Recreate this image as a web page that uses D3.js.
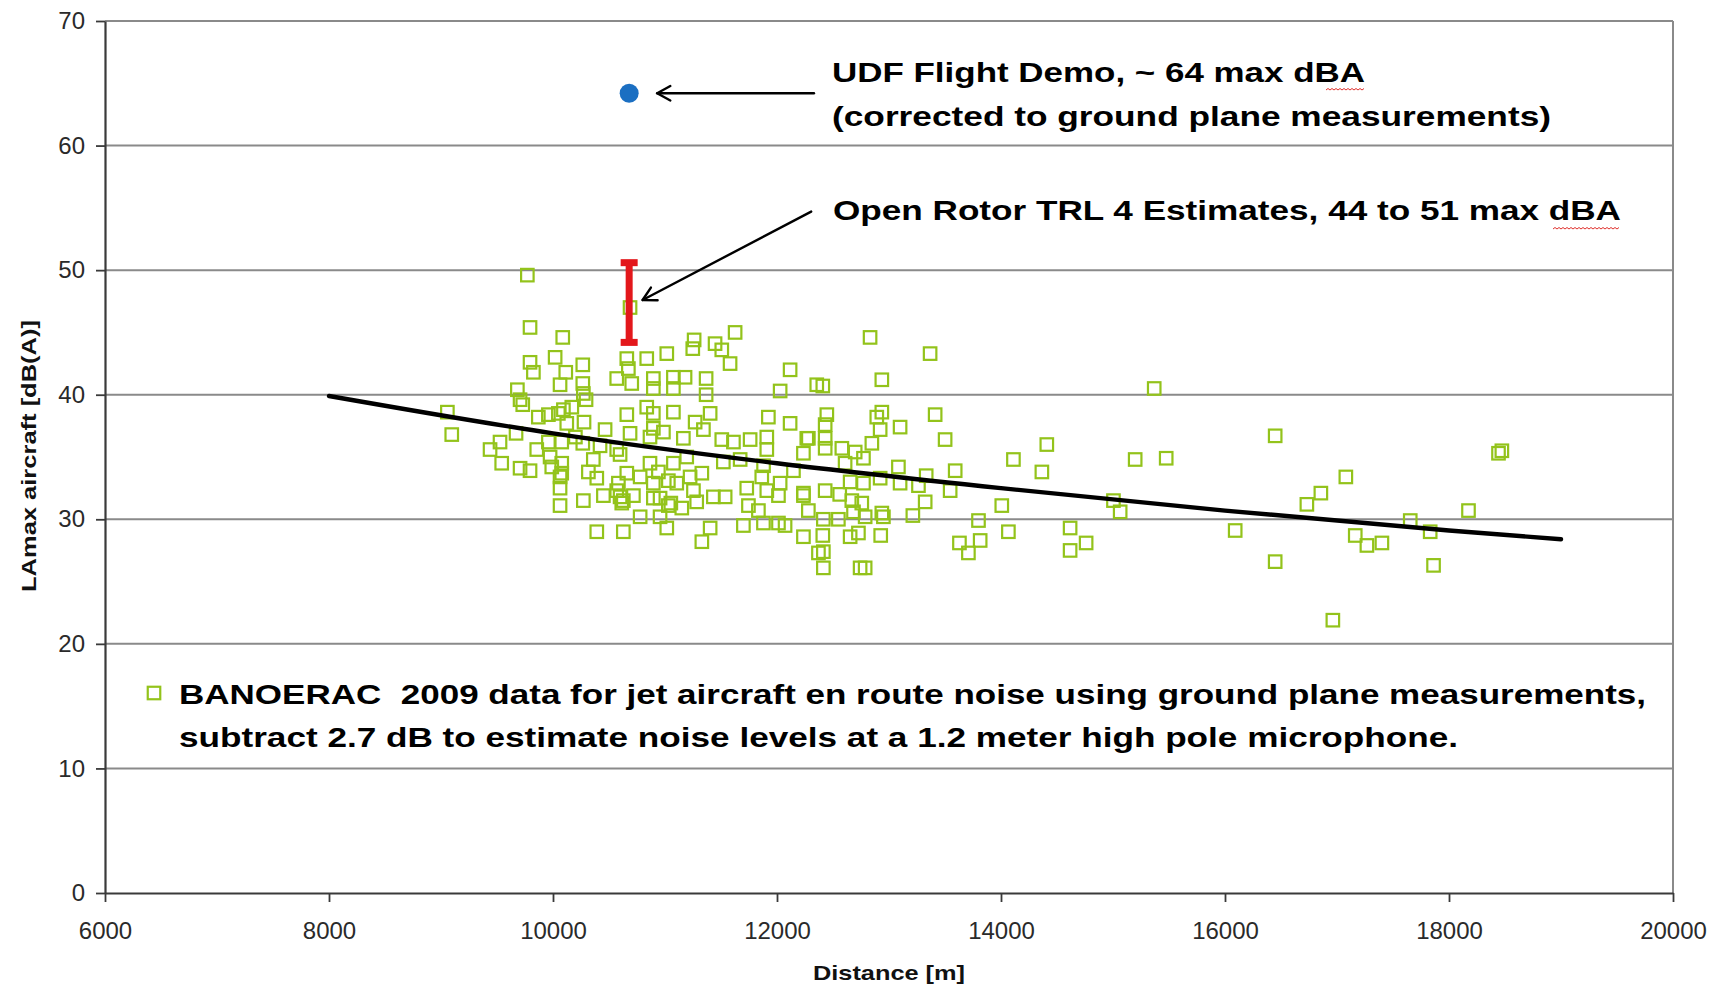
<!DOCTYPE html>
<html><head><meta charset="utf-8">
<script src="https://cdn.jsdelivr.net/npm/d3@7"></script>
<style>
html,body{margin:0;padding:0;background:#fff;}
svg{display:block;font-family:"Liberation Sans",Arial,sans-serif;}
</style>
</head><body>
<svg id="chart" width="1724" height="991"></svg>
<script>
// ---------------- data ----------------
const xTicks = [6000, 8000, 10000, 12000, 14000, 16000, 18000, 20000];
const yTicks = [0, 10, 20, 30, 40, 50, 60, 70];

// BANOERAC 2009 measurements: distance [m] and LAmax [dB(A)]
const banoeracDistance = [
 9771,10688,9795,10087,9795,9825,10019,10114,10266,10063,10266,9682,9706,9730,9057,9096,9869,9959,10093,10168,
 10271,10295,10277,10123,10569,10659,10673,10703,10837,11016,10896,10896,11075,11179,11075,11260,11248,11447,11507,11581,
 11626,11367,11367,12117,12028,10659,10837,10896,11075,10896,10866,11403,11269,11343,11923,12117,9438,9527,9542,9706,
 9795,9855,9959,9974,9989,10078,10063,10266,10360,10316,10391,10465,10569,10688,10599,10659,10778,10569,10599,10718,
 10614,10450,10271,10063,10063,10866,10941,11075,11105,10956,11030,10896,10896,11194,11224,11329,11254,11432,11537,11283,
 11507,11611,11760,11909,11909,11671,11730,11745,11864,11909,12028,12013,12266,12236,12236,12280,10778,10956,11016,10391,
 10628,11403,11329,11700,11879,12013,12072,12236,12370,12355,12831,13367,12409,12936,15368,12445,12430,12280,12430,12430,
 12936,12891,12921,12847,13099,13412,13501,12579,12698,12772,12608,16448,14111,14409,14365,15198,15475,13084,13332,13591,
 13546,12236,12430,12653,12772,12921,13099,13263,12668,12757,12414,12548,12683,12787,12936,12950,13213,13323,14007,13799,
 14066,13814,13629,13709,12409,12653,12727,12926,12414,12414,12742,12787,15004,15064,14617,14617,14760,16091,16448,18442,
 18472,17079,16856,16731,17163,17267,17401,17654,17832,17862,18174,16963,9670,10048,10078,10078,10986,11164,11521,12147,
 11834,11030,11052,10584,10628,10200,10420,11150,11880,12560
];
const banoeracLevel = [
 49.6,47.0,45.4,44.6,42.6,41.8,43.0,41.8,42.4,40.8,40.9,40.4,39.6,39.2,38.6,36.8,38.2,38.4,38.8,39.0,
 40.1,39.6,37.8,37.7,41.3,42.9,42.1,40.9,42.9,43.3,41.3,40.5,41.4,41.4,40.5,44.4,43.7,44.1,43.6,42.5,
 45.0,41.3,40.0,42.0,40.3,38.4,39.0,38.5,38.6,37.3,36.6,38.5,37.8,37.2,38.2,37.7,35.6,36.2,34.5,34.1,
 33.9,35.6,36.2,35.0,34.2,34.5,33.4,36.1,34.8,33.8,33.3,37.2,35.6,36.9,35.2,33.7,33.4,32.3,31.8,31.9,
 31.3,31.9,31.5,32.5,31.1,34.5,33.8,34.5,32.9,31.7,31.1,32.9,31.7,35.0,33.4,33.7,32.3,31.8,31.8,31.4,
 36.4,36.2,36.4,36.6,35.6,34.8,32.5,31.1,33.4,32.3,32.9,31.9,36.5,35.3,31.9,30.7,30.2,30.2,29.3,29.0,
 29.0,29.3,28.2,29.5,29.7,29.7,29.5,28.6,27.3,40.8,44.6,43.3,40.7,41.2,40.5,38.4,37.6,36.5,36.5,35.7,
 38.6,38.2,37.2,36.1,37.4,38.4,36.4,35.7,35.4,34.9,34.5,36.7,34.8,36.0,33.8,34.8,34.9,34.2,33.5,33.9,
 32.3,32.1,32.3,33.0,32.9,33.3,32.9,32.7,31.5,31.3,30.0,30.0,30.6,30.2,30.5,30.2,30.3,31.4,31.1,29.9,
 29.0,28.3,28.1,27.3,28.7,28.6,28.9,28.7,27.4,26.1,26.1,26.1,31.5,30.6,29.3,27.5,28.1,29.1,26.6,35.3,
 35.5,33.4,32.1,31.2,28.7,27.9,28.1,29.9,29.0,26.3,30.7,21.9,36.9,38.5,36.2,33.7,37.0,36.5,34.6,33.9,
 30.7,33.1,31.3,32.9,31.5,36.6,35.9,30.9,34.3,32.0
];

// trend line
const trendDistance = [8000, 10000, 12000, 14000, 16000, 18000, 19000];
const trendLevel    = [39.9, 36.9, 34.5, 32.5, 30.7, 29.1, 28.4];

// UDF flight demo point
const udfDistance = [10680];
const udfLevel = [64.2];

// Open rotor TRL 4 estimate range
const rotorDistance = [10680];
const rotorLow = [44.2];
const rotorHigh = [50.6];

// annotation arrows: [fromDistance, fromLevel, toDistance, toLevel]
const udfArrow = [12330, 64.2, 10930, 64.2];
const rotorArrow = [12305, 54.7, 10800, 47.6];

const annotationText = [
  "UDF Flight Demo, ~ 64 max dBA",
  "(corrected to ground plane measurements)",
  "Open Rotor TRL 4 Estimates, 44 to 51 max dBA"
];
const legendText = [
  "BANOERAC  2009 data for jet aircraft en route noise using ground plane measurements,",
  "subtract 2.7 dB to estimate noise levels at a 1.2 meter high pole microphone."
];
const xTitle = "Distance [m]";
const yTitle = "LAmax aircraft [dB(A)]";

// ---------------- drawing ----------------
(function draw() {
const svg = d3.select("#chart");
svg.append("rect").attr("width",1724).attr("height",991).attr("fill","#fff");

const pL = 105, pR = 1673, pT = 21, pB = 893;
const x = d3.scaleLinear().domain([6000, 20000]).range([pL, pR]);
const y = d3.scaleLinear().domain([0, 70]).range([pB, pT]);

const green = "#93c31b";
const gridColor = "#8a8a8a";
const axisColor = "#3a3a3a";

// gridlines
svg.append("g").selectAll("line").data(yTicks.filter(d => d > 0)).join("line")
  .attr("x1", pL).attr("x2", pR)
  .attr("y1", d => y(d)).attr("y2", d => y(d))
  .attr("stroke", gridColor).attr("stroke-width", 2);
// right border
svg.append("line").attr("x1", pR).attr("x2", pR).attr("y1", pT).attr("y2", pB)
  .attr("stroke", gridColor).attr("stroke-width", 2);

// axes
const yAxis = svg.append("g").attr("transform", `translate(${pL},0)`)
  .call(d3.axisLeft(y).tickValues(yTicks).tickSize(9).tickSizeOuter(0).tickPadding(11));
const xAxis = svg.append("g").attr("transform", `translate(0,${pB})`)
  .call(d3.axisBottom(x).tickValues(xTicks).tickFormat(d3.format("d")).tickSize(9).tickSizeOuter(0).tickPadding(20));
[yAxis, xAxis].forEach(g => {
  g.select(".domain").attr("stroke", axisColor).attr("stroke-width", 2.2);
  g.selectAll(".tick line").attr("stroke", axisColor).attr("stroke-width", 1.8);
  g.selectAll(".tick text").attr("font-size", 24).attr("fill", "#2a2a2a")
    .attr("font-family", '"Liberation Sans",Arial,sans-serif');
});

// scatter squares
const pts = banoeracDistance.map((d, i) => ({d, l: banoeracLevel[i]}));
const sq = 12.5;
svg.append("g").selectAll("rect").data(pts).join("rect")
  .attr("x", p => x(p.d) - sq/2).attr("y", p => y(p.l) - sq/2)
  .attr("width", sq).attr("height", sq)
  .attr("fill", "none").attr("stroke", green).attr("stroke-width", 2.2);

// trend line
const trend = trendDistance.map((d, i) => [d, trendLevel[i]]);
svg.append("path").datum(trend)
  .attr("d", d3.line().x(p => x(p[0])).y(p => y(p[1])).curve(d3.curveMonotoneX))
  .attr("fill", "none").attr("stroke", "#000").attr("stroke-width", 4.4).attr("stroke-linecap","round");

// red range bar
const red = "#e3171b";
rotorDistance.forEach((d, i) => {
  const g = svg.append("g");
  g.append("line").attr("x1", x(d)).attr("x2", x(d))
    .attr("y1", y(rotorLow[i])).attr("y2", y(rotorHigh[i]))
    .attr("stroke", red).attr("stroke-width", 7);
  [rotorLow[i], rotorHigh[i]].forEach(v => {
    g.append("rect").attr("x", x(d) - 8.5).attr("y", y(v) - 3.5)
      .attr("width", 17).attr("height", 7).attr("fill", red);
  });
});

// blue UDF dot
svg.append("g").selectAll("circle").data(udfDistance).join("circle")
  .attr("cx", d => x(d)).attr("cy", (d, i) => y(udfLevel[i])).attr("r", 9.5)
  .attr("fill", "#1b6fc2");

// arrows
function arrow(a) {
  const x1 = x(a[0]), y1 = y(a[1]), x2 = x(a[2]), y2 = y(a[3]);
  const ang = Math.atan2(y2 - y1, x2 - x1);
  const L = 15, W = 0.5;
  const g = svg.append("g").attr("stroke", "#000").attr("stroke-width", 2.4)
    .attr("fill", "none").attr("stroke-linecap", "round").attr("stroke-linejoin","round");
  g.append("line").attr("x1", x1).attr("y1", y1).attr("x2", x2).attr("y2", y2);
  const p1 = [x2 - L*Math.cos(ang - W), y2 - L*Math.sin(ang - W)];
  const p2 = [x2 - L*Math.cos(ang + W), y2 - L*Math.sin(ang + W)];
  g.append("path").attr("d", `M${p1[0]},${p1[1]}L${x2},${y2}L${p2[0]},${p2[1]}`);
}
arrow(udfArrow);
arrow(rotorArrow);

// annotation text
const annLayout = [
  {x: 832, y: 82, w: 533},
  {x: 832, y: 126, w: 719},
  {x: 833, y: 220, w: 788}
];
annotationText.forEach((t, i) => {
  svg.append("text").attr("x", annLayout[i].x).attr("y", annLayout[i].y)
    .attr("font-size", 28).attr("font-weight", "bold").attr("fill", "#000")
    .attr("textLength", annLayout[i].w).attr("lengthAdjust", "spacingAndGlyphs")
    .text(t);
});

// spell-check squiggles under "dBA"
function squiggle(x0, x1, yy) {
  let d = `M${x0},${yy}`;
  let up = true;
  for (let xx = x0 + 2; xx <= x1; xx += 2) { d += `L${xx},${yy + (up ? -1.5 : 0)}`; up = !up; }
  svg.append("path").attr("d", d).attr("fill", "none").attr("stroke", "#e0302c").attr("stroke-width", 1);
}
squiggle(1326, 1364, 90);
squiggle(1553, 1620, 229);

// legend
svg.append("rect").attr("x", 154 - sq/2).attr("y", 693 - sq/2).attr("width", sq).attr("height", sq)
  .attr("fill", "none").attr("stroke", green).attr("stroke-width", 2.2);
const legLayout = [{x: 179, y: 704, w: 1467}, {x: 179, y: 747, w: 1279}];
legendText.forEach((t, i) => {
  svg.append("text").attr("x", legLayout[i].x).attr("y", legLayout[i].y)
    .attr("font-size", 28).attr("font-weight", "bold").attr("fill", "#000")
    .attr("textLength", legLayout[i].w).attr("lengthAdjust", "spacingAndGlyphs")
    .style("white-space", "pre")
    .text(t);
});

// axis titles
svg.append("text").attr("x", 889).attr("y", 980).attr("text-anchor", "middle")
  .attr("font-size", 21).attr("font-weight", "bold").attr("fill", "#111")
  .attr("textLength", 152).attr("lengthAdjust", "spacingAndGlyphs").text(xTitle);
svg.append("text").attr("transform", "translate(36,456) rotate(-90)").attr("text-anchor", "middle")
  .attr("font-size", 21).attr("font-weight", "bold").attr("fill", "#111")
  .attr("textLength", 272).attr("lengthAdjust", "spacingAndGlyphs").text(yTitle);
})();
</script>
</body></html>
